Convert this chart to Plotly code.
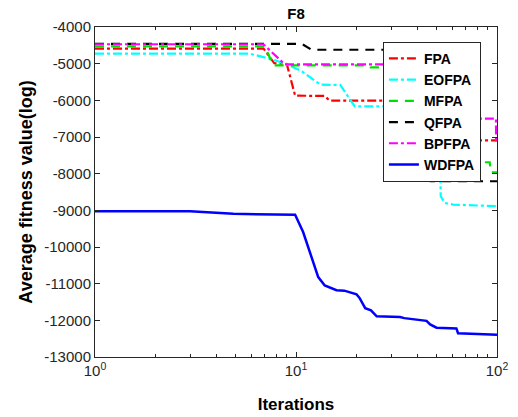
import plotly.graph_objects as go

# Convergence curves on benchmark F8 (average fitness vs. iteration, log x-axis)
fpa_x = [1, 6.9, 7.8, 9.0, 9.5, 9.9, 13.9, 14.7, 60, 61, 100]
fpa_y = [-4590, -4590, -4990, -5010, -5500, -5872, -5880, -6010, -6010, -7090, -7090]

eofpa_x = [1, 5.9, 7.7, 9.1, 10.7, 13.2, 16.6, 19.6, 40, 52.0, 52.5, 55, 60.5, 100]
eofpa_y = [-4728, -4728, -4890, -5027, -5210, -5572, -5580, -6163, -6170, -7400, -8616, -8800, -8842, -8888]

mfpa_x = [1, 7.0, 7.7, 23.0, 23.5, 45, 46, 92, 93, 100]
mfpa_y = [-4530, -4530, -5045, -5050, -5100, -5100, -7689, -7689, -7962, -7962]

qfpa_x = [1, 10.7, 11.95, 46.8, 46.9, 100]
qfpa_y = [-4460, -4460, -4620, -4620, -8207, -8207]

bpfpa_x = [1, 6.88, 8.8, 40, 41, 98.8, 99.0, 100]
bpfpa_y = [-4470, -4470, -5020, -5020, -6499, -6499, -7090, -7090]

wdfpa_x = [1, 2.97, 4.88, 9.9, 10.85, 12.9, 13.9, 15.9, 17.4, 20.0, 20.7, 22.1, 23.6, 25.2,
           32.9, 34.6, 44.6, 46.5, 50.0, 62.8, 64.0, 100]
wdfpa_y = [-9024, -9024, -9095, -9123, -9593, -10820, -11050, -11180, -11190, -11290, -11390,
           -11670, -11730, -11890, -11910, -11940, -12015, -12110, -12200, -12220, -12350, -12390]

y_ticks = [-13000, -12000, -11000, -10000, -9000, -8000, -7000, -6000, -5000, -4000]
x_ticks = [1, 10, 100]
x_tick_text = ["10<sup>0</sup>", "10<sup>1</sup>", "10<sup>2</sup>"]
x_minor = [2, 3, 4, 5, 6, 7, 8, 9, 20, 30, 40, 50, 60, 70, 80, 90]

series = [
    ("FPA", fpa_x, fpa_y, "#ff0000", "dashdot", 2.2),
    ("EOFPA", eofpa_x, eofpa_y, "#00ffff", "dashdot", 2.2),
    ("MFPA", mfpa_x, mfpa_y, "#00e000", "9px,7px", 2.2),
    ("QFPA", qfpa_x, qfpa_y, "#000000", "9px,7px", 2.2),
    ("BPFPA", bpfpa_x, bpfpa_y, "#ff00ff", "dashdot", 2.2),
    ("WDFPA", wdfpa_x, wdfpa_y, "#0000ff", "solid", 2.5),
]

fig = go.Figure()
for name, xs, ys, color, dash, width in series:
    fig.add_trace(go.Scatter(
        x=xs, y=ys, mode="lines", name=name,
        line=dict(color=color, dash=dash, width=width),
    ))

axis_color = "#262626"
font_family = "Liberation Sans, Arial, sans-serif"

fig.update_layout(
    width=518, height=417,
    margin=dict(l=95, r=21, t=27, b=60),
    paper_bgcolor="white", plot_bgcolor="white",
    font=dict(family=font_family, size=15, color=axis_color),
    title=dict(text="<b>F8</b>", x=0.5, xref="paper", y=0.98, yref="container",
               xanchor="center", yanchor="top",
               font=dict(size=15, color="#000000")),
    showlegend=True,
    legend=dict(
        x=0.96, y=0.955, xanchor="right", yanchor="top",
        bgcolor="white", bordercolor="#262626", borderwidth=1,
        font=dict(size=14, color="#000000", weight="bold"),
        tracegroupgap=0, itemwidth=30,
    ),
)

fig.update_xaxes(
    type="log", range=[0, 2], automargin=False,
    tickmode="array", tickvals=x_ticks, ticktext=x_tick_text,
    ticks="inside", ticklen=5, tickcolor=axis_color,
    minor=dict(tickmode="array", tickvals=x_minor, ticks="inside", ticklen=3,
               tickcolor=axis_color, showgrid=False),
    showline=True, linecolor=axis_color, linewidth=1, mirror="ticks",
    showgrid=False, zeroline=False,
    title=dict(text="<b>Iterations</b>", font=dict(size=17, color="#000000"), standoff=20),
)

fig.update_yaxes(
    range=[-13000, -4000], automargin=False,
    tickmode="array", tickvals=y_ticks, ticktext=[str(v) for v in y_ticks],
    ticks="inside", ticklen=5, tickcolor=axis_color,
    showline=True, linecolor=axis_color, linewidth=1, mirror="ticks",
    showgrid=False, zeroline=False,
    title=dict(text="<b>Average fitness value(log)</b>", font=dict(size=18, color="#000000"),
               standoff=6),
)

fig.write_html("out.html")
